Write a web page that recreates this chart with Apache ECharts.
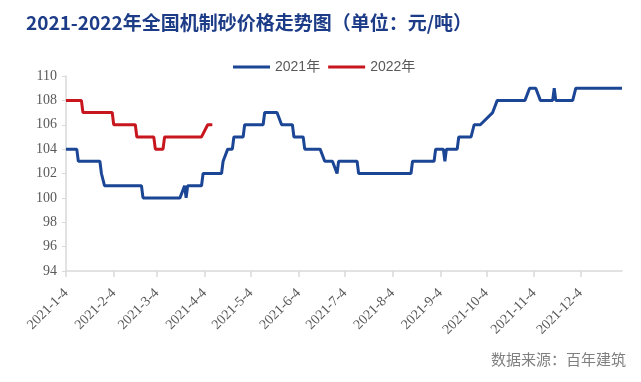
<!DOCTYPE html>
<html><head><meta charset="utf-8">
<script src="https://cdn.jsdelivr.net/npm/echarts@6/dist/echarts.min.js"></script>
<style>html,body{margin:0;padding:0;background:#fff}#c{width:641px;height:382px}</style>
</head><body><div id="c"></div>
<script>
// Category range (daily, calendar days)
const startDate = '2021-1-4';
const endDate = '2021-12-31';
// Tick labels shown on x axis
const tickLabels = ['2021-1-4','2021-2-4','2021-3-4','2021-4-4','2021-5-4','2021-6-4','2021-7-4','2021-8-4','2021-9-4','2021-10-4','2021-11-4','2021-12-4'];
// 2021 series: change points (date, price)
const dates2021 = ['2021-1-4','2021-1-11','2021-1-12','2021-1-26','2021-1-27','2021-1-28','2021-1-29','2021-2-22','2021-2-23','2021-3-19','2021-3-22','2021-3-23','2021-3-24','2021-4-2','2021-4-3','2021-4-15','2021-4-16','2021-4-19','2021-4-22','2021-4-23','2021-4-29','2021-4-30','2021-5-12','2021-5-13','2021-5-21','2021-5-24','2021-5-31','2021-6-1','2021-6-7','2021-6-8','2021-6-18','2021-6-21','2021-6-26','2021-6-29','2021-6-30','2021-7-12','2021-7-13','2021-8-16','2021-8-17','2021-8-31','2021-9-1','2021-9-6','2021-9-7','2021-9-8','2021-9-15','2021-9-16','2021-9-24','2021-9-26','2021-9-30','2021-10-8','2021-10-9','2021-10-11','2021-10-29','2021-11-1','2021-11-5','2021-11-8','2021-11-16','2021-11-17','2021-11-18','2021-11-29','2021-12-1','2021-12-31'];
const values2021 = [104,104,103,103,102,102,101,101,100,100,101,100,101,101,102,102,103,104,104,105,105,106,106,107,107,106,106,105,105,104,104,103,103,102,103,103,102,102,103,103,104,104,103,104,104,105,105,106,106,107,107,108,108,109,109,108,108,109,108,108,109,109];
// 2022 series: change points (month-day, price), drawn on the same calendar positions
const dates2022 = ['1-4','1-14','1-15','2-3','2-4','2-18','2-19','3-2','3-3','3-8','3-9','4-2','4-6','4-9'];
const values2022 = [108,108,107,107,106,106,105,105,104,104,105,105,106,106];
const seriesNames = ['2021年','2022年'];
const sourceText = '数据来源：百年建筑';

// build daily categories
function fmt(d){return d.getFullYear()+'-'+(d.getMonth()+1)+'-'+d.getDate();}
const categories = [];
(function(){
  const p1 = startDate.split('-').map(Number), p2 = endDate.split('-').map(Number);
  const d = new Date(p1[0], p1[1]-1, p1[2]);
  const e = new Date(p2[0], p2[1]-1, p2[2]);
  while (d <= e) { categories.push(fmt(d)); d.setDate(d.getDate()+1); }
})();
const idx = {}; categories.forEach((c,i)=>idx[c]=i);
const tickSet = new Set(tickLabels);
const data2021 = dates2021.map((d,i)=>[idx[d], values2021[i]]);
const data2022 = dates2022.map((d,i)=>[idx['2021-'+d], values2022[i]]);
const showTick = (i, v) => tickSet.has(v);

const chart = echarts.init(document.getElementById('c'));
chart.setOption({
  animation: false,
  backgroundColor: '#fff',
  title: {
    text: '2021-2022年全国机制砂价格走势图（单位：元/吨）',
    left: 21, top: 8,
    textStyle: {fontFamily: '"Noto Sans CJK SC", sans-serif', fontSize: 19, fontWeight: 'bold', color: '#1d3c87'}
  },
  legend: {
    top: 55, left: 228,
    itemWidth: 37, itemHeight: 3, itemGap: 8, icon: 'rect',
    textStyle: {fontFamily: '"Liberation Sans", "Noto Sans CJK SC", sans-serif', fontSize: 14, color: '#595959'},
    data: seriesNames
  },
  grid: {left: 66, right: 19, top: 76, bottom: 111, containLabel: false},
  xAxis: {
    type: 'category', data: categories, boundaryGap: false,
    axisLine: {lineStyle: {color: '#d9d9d9', width: 1.5}},
    axisTick: {show: true, interval: showTick, length: 6, lineStyle: {color: '#d9d9d9', width: 1.5}},
    axisLabel: {interval: showTick, rotate: 45, margin: 20, fontFamily: '"Liberation Serif", serif', fontSize: 14, color: '#595959'},
    splitLine: {show: false}
  },
  yAxis: {
    type: 'value', min: 94, max: 110, interval: 2,
    axisLine: {show: true, lineStyle: {color: '#d9d9d9', width: 1.5}},
    axisTick: {show: true, length: 4, lineStyle: {color: '#d9d9d9'}},
    axisLabel: {margin: 9, fontFamily: '"Liberation Serif", serif', fontSize: 14, color: '#595959'},
    splitLine: {show: false}
  },
  series: [
    {name: seriesNames[0], type: 'line', data: data2021, symbol: 'none', lineStyle: {color: '#1b4595', width: 3}, itemStyle: {color: '#1b4595'}},
    {name: seriesNames[1], type: 'line', data: data2022, symbol: 'none', lineStyle: {color: '#c8161e', width: 3}, itemStyle: {color: '#c8161e'}}
  ],
  graphic: [{
    type: 'text', right: 15, top: 352,
    style: {text: sourceText, fill: '#808080', font: '15px "Noto Sans CJK SC", sans-serif'}
  }]
});
</script></body></html>
